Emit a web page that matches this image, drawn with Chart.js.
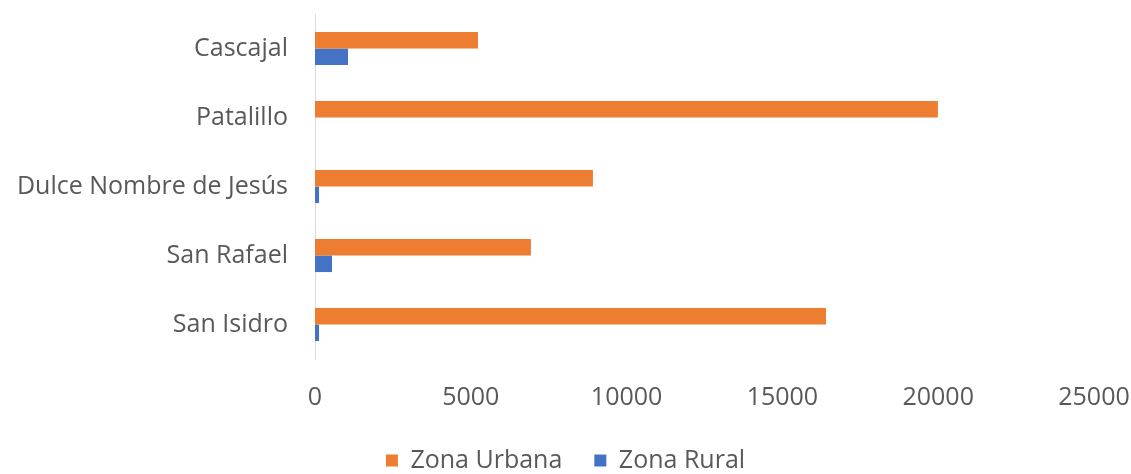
<!DOCTYPE html>
<html>
<head>
<meta charset="utf-8">
<script src="https://cdn.jsdelivr.net/npm/chart.js@4.4.0/dist/chart.umd.min.js"></script>
<style>
  html, body { margin: 0; padding: 0; background: #ffffff; }
  #wrap { width: 1131px; height: 474px; }
</style>
</head>
<body>
<div id="wrap"><canvas id="c" width="1131" height="474"></canvas></div>
<script>
const categories = ["Cascajal", "Patalillo", "Dulce Nombre de Jesús", "San Rafael", "San Isidro"];
const zonaUrbana = [5230, 19990, 8920, 6930, 16400];
const zonaRural = [1060, 0, 130, 546, 130];
const xTicks = [0, 5000, 10000, 15000, 20000, 25000];

const FONT = "'Open Sans', sans-serif";
const TEXT = "#595959";

new Chart(document.getElementById("c"), {
  type: "bar",
  data: {
    labels: categories,
    datasets: [
      { label: "Zona Urbana", data: zonaUrbana, backgroundColor: "#ED7D31", borderWidth: 0 },
      { label: "Zona Rural", data: zonaRural, backgroundColor: "#4472C4", borderWidth: 0 }
    ]
  },
  options: {
    indexAxis: "y",
    responsive: false,
    animation: false,
    devicePixelRatio: 1,
    categoryPercentage: 0.48,
    barPercentage: 1.0,
    layout: { padding: { top: 14, left: 0, right: 0, bottom: -9 } },
    plugins: {
      tooltip: { enabled: false },
      legend: {
        position: "bottom",
        labels: {
          color: TEXT,
          font: { family: FONT, size: 25 },
          boxWidth: 12,
          boxHeight: 12,
          padding: 32
        }
      }
    },
    scales: {
      x: {
        min: 0,
        max: 25000,
        afterBuildTicks: (s) => { s.ticks = xTicks.map(v => ({ value: v })); },
        grid: { display: false },
        border: { display: false },
        ticks: { color: TEXT, font: { family: FONT, size: 25 }, padding: 16, maxRotation: 0,
                 callback: (v) => String(v) },
        afterFit: (s) => { s.height = 57; s.paddingLeft = 0; s.paddingRight = 37; }
      },
      y: {
        grid: { display: false },
        border: { display: true, color: "#d9d9d9", width: 1 },
        ticks: { color: TEXT, font: { family: FONT, size: 25 }, padding: 19 },
        afterFit: (s) => { s.width = 315; s.paddingTop = 0; s.paddingBottom = 0; }
      }
    }
  }
});
</script>
</body>
</html>
